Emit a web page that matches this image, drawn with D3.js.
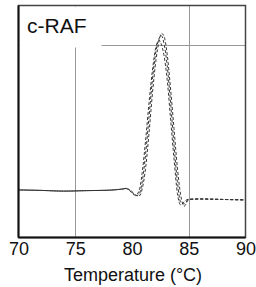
<!DOCTYPE html>
<html lang="en">
<head>
<meta charset="utf-8">
<title>c-RAF melt curve</title>
<script src="https://d3js.org/d3.v7.min.js"></script>
<style>
  body { margin: 0; background: #fff; }
  svg { font-family: Arial, "Liberation Sans", sans-serif; }
  .trace { fill: none; stroke: #333; stroke-width: 1; stroke-dasharray: 3,2; }
  .grid { stroke: #999; stroke-width: 1; }
</style>
</head>
<body>
<script>
// Data - melt curve derivative, three replicate traces (arbitrary units)
const temps = [70, 72, 74, 76, 78, 79, 79.5, 80, 80.3, 80.6, 80.9, 81.2, 81.5, 81.8, 82.1, 82.4, 82.6, 82.8, 83.1, 83.4, 83.7, 84.0, 84.3, 84.6, 85, 86, 88, 90];
const trace1 = [20.5, 20.3, 20.0, 20.2, 20.4, 20.8, 21.2, 19.5, 18.0, 18.5, 24, 36, 52, 68, 80, 86, 87, 84, 74, 58, 40, 24, 15, 14.5, 16.5, 16.6, 16.4, 16.2];
const trace2 = [20.5, 20.3, 20.0, 20.2, 20.4, 20.8, 21.0, 19.8, 18.4, 17.8, 21, 30, 45, 62, 76, 85, 88, 87, 79, 64, 47, 30, 18, 13.5, 16.3, 16.6, 16.4, 16.2];
const trace3 = [20.5, 20.3, 20.0, 20.2, 20.4, 20.8, 21.1, 19.2, 18.2, 19.8, 28, 42, 58, 72, 82, 85, 83, 79, 68, 51, 34, 19, 14, 15.5, 16.5, 16.6, 16.4, 16.2];
const xTicks = [70, 75, 80, 85, 90];
const xGrid = [75, 85];
const yGrid = [83];

const w = 256, h = 287;
const mLeft = 18.5, mRight = 245.5, mTop = 5.5, mBottom = 237.5;

const x = d3.scaleLinear().domain([70, 90]).range([mLeft, mRight]);
const y = d3.scaleLinear().domain([0, 100]).range([mBottom, mTop]);

const svg = d3.select("body").append("svg").attr("width", w).attr("height", h);

// gridlines
svg.selectAll(".gx").data(xGrid).enter().append("line")
  .attr("class", "grid")
  .attr("x1", d => Math.round(x(d)) + 0.5).attr("x2", d => Math.round(x(d)) + 0.5)
  .attr("y1", mTop).attr("y2", mBottom);
svg.selectAll(".gy").data(yGrid).enter().append("line")
  .attr("class", "grid")
  .attr("x1", mLeft).attr("x2", mRight)
  .attr("y1", d => Math.round(y(d)) + 0.5).attr("y2", d => Math.round(y(d)) + 0.5);

// traces - offset dashes so the overlapping flat parts read almost solid
const line = d3.line().x((d, i) => x(temps[i])).y(d => y(d)).curve(d3.curveMonotoneX);
[trace1, trace2, trace3].forEach((s, i) => {
  svg.append("path").attr("class", "trace").attr("stroke-dashoffset", i * 1.7).attr("d", line(s));
});

// label box
svg.append("rect").attr("x", mLeft + 1).attr("y", mTop + 1).attr("width", 82).attr("height", 41).attr("fill", "#fff");
svg.append("text").attr("x", 27).attr("y", 33).attr("font-size", 21).attr("fill", "#111").text("c-RAF");

// frame
svg.append("rect").attr("x", mLeft).attr("y", mTop).attr("width", mRight - mLeft).attr("height", mBottom - mTop)
  .attr("fill", "none").attr("stroke", "#444").attr("stroke-width", 1.5);
svg.append("line").attr("x1", mLeft).attr("x2", mLeft).attr("y1", mTop).attr("y2", mBottom).attr("stroke", "#111").attr("stroke-width", 2);
svg.append("line").attr("x1", mLeft).attr("x2", mRight).attr("y1", mBottom).attr("y2", mBottom).attr("stroke", "#111").attr("stroke-width", 2);

// x axis labels
const xAxis = d3.axisBottom(x).tickValues(xTicks).tickSize(0).tickPadding(5);
const gx = svg.append("g").attr("transform", `translate(0,${mBottom})`).call(xAxis);
gx.select(".domain").remove();
gx.selectAll("text").attr("font-size", 18).attr("fill", "#111").attr("font-family", "Arial, 'Liberation Sans', sans-serif");

svg.append("text").attr("x", 133).attr("y", 281).attr("text-anchor", "middle")
  .attr("font-size", 18).attr("fill", "#111").text("Temperature (°C)");
</script>
</body>
</html>
